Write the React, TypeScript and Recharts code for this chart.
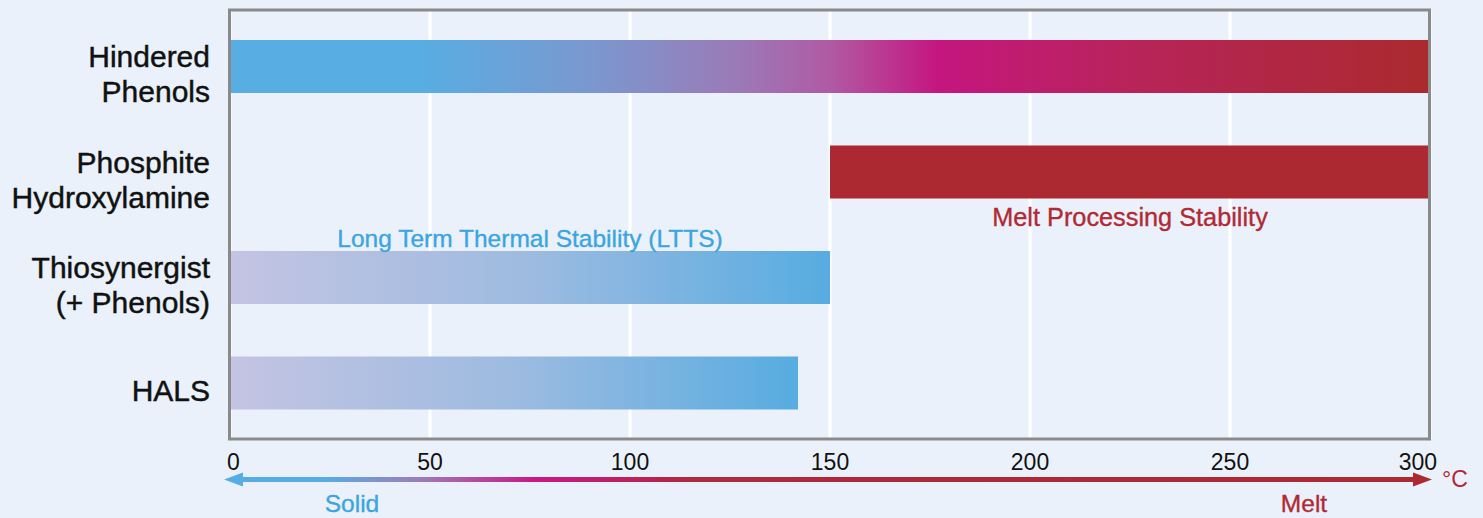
import { BarChart, Bar, XAxis, YAxis, CartesianGrid, Cell, LabelList } from 'recharts'

// stabiliser classes and their effective temperature ranges (°C)
const categories = ['Hindered\nPhenols', 'Phosphite\nHydroxylamine', 'Thiosynergist\n(+ Phenols)', 'HALS']
const rangeStart = [0, 150, 0, 0]
const rangeEnd = [300, 300, 150, 142]
const notes = ['', 'Melt Processing Stability', 'Long Term Thermal Stability (LTTS)', '']
const xTicks = [0, 50, 100, 150, 200, 250, 300]

const rows = categories.map((name, i) => ({
  name,
  range: [rangeStart[i], rangeEnd[i]],
  note: notes[i],
}))

const W = 1483
const H = 518
const PLOT_LEFT = 230
const PLOT_RIGHT = 1430
const PLOT_TOP = 10
const PLOT_BOTTOM = 439
const FONT = "'Liberation Sans', Arial, Helvetica, sans-serif"
const BLUE = '#57ace1'
const RED = '#ad2931'
const TEXT_BLUE = '#3aa5df'
const TEXT_RED = '#b02a35'

const BAR_FILL = ['url(#gradPhenol)', RED, 'url(#gradLtts)', 'url(#gradLtts)']

function CategoryTick(props: any) {
  const { y, payload } = props
  const lines = String(payload.value).split('\n')
  return (
    <text x={PLOT_LEFT - 20} y={y} textAnchor="end" fontFamily={FONT} fontSize={30} fill="#111" stroke="#111" strokeWidth={0.45}>
      {lines.map((l, i) => (
        <tspan key={i} x={PLOT_LEFT - 20} y={y + 18 + (i - (lines.length - 1) / 2) * 35}>{l}</tspan>
      ))}
    </text>
  )
}

function TempTick(props: any) {
  const { x, payload } = props
  const v = payload.value
  let anchor: 'start' | 'middle' | 'end' = 'middle'
  let tx = x
  if (v === xTicks[0]) { anchor = 'start'; tx = x - 3 }
  if (v === xTicks[xTicks.length - 1]) { anchor = 'end'; tx = x + 7 }
  return (
    <text x={tx} y={PLOT_BOTTOM + 31} textAnchor={anchor} fontFamily={FONT} fontSize={23} fill="#111">
      {v}
    </text>
  )
}

function NoteLabel(props: any) {
  const { x, y, width, height, value, index } = props
  if (!value) return null
  const above = rangeStart[index] === 0
  const c = above ? TEXT_BLUE : TEXT_RED
  return (
    <text
      x={x + width / 2}
      y={above ? y - 4 : y + height + 27}
      textAnchor="middle"
      fontFamily={FONT}
      fontSize={above ? 24.5 : 25.3}
      fill={c}
      stroke={c}
      strokeWidth={0.35}
    >
      {value}
    </text>
  )
}

export default function App() {
  const arrowY = 479.5
  return (
    <div style={{ position: 'absolute', left: 0, top: 0, width: W, height: H, background: '#eaf1fa', overflow: 'hidden' }}>
      <BarChart
        width={W}
        height={H}
        data={rows}
        layout="vertical"
        margin={{ top: PLOT_TOP, right: W - PLOT_RIGHT, left: 0, bottom: H - PLOT_BOTTOM - 40 }}
      >
        <defs>
          <linearGradient id="gradPhenol" x1="0" y1="0" x2="1" y2="0">
            <stop offset="0%" stopColor="#58ade2" />
            <stop offset="16%" stopColor="#58ade2" />
            <stop offset="30%" stopColor="#7a98cf" />
            <stop offset="42%" stopColor="#9a7bb8" />
            <stop offset="50%" stopColor="#b05aa3" />
            <stop offset="59%" stopColor="#c5167f" />
            <stop offset="75%" stopColor="#b8245a" />
            <stop offset="100%" stopColor="#aa2a2d" />
          </linearGradient>
          <linearGradient id="gradLtts" x1="0" y1="0" x2="1" y2="0">
            <stop offset="0%" stopColor="#c4c4e3" />
            <stop offset="50%" stopColor="#9dbbe0" />
            <stop offset="100%" stopColor="#57ace1" />
          </linearGradient>
        </defs>
        <CartesianGrid horizontal={false} stroke="#ffffff" strokeWidth={3} />
        <XAxis
          type="number"
          domain={[0, 300]}
          ticks={xTicks}
          height={40}
          axisLine={false}
          tickLine={false}
          tick={<TempTick />}
        />
        <YAxis
          type="category"
          dataKey="name"
          width={PLOT_LEFT}
          padding={{ top: 4, bottom: 3 }}
          axisLine={false}
          tickLine={false}
          tick={<CategoryTick />}
        />
        <Bar dataKey="range" barSize={53} isAnimationActive={false}>
          {rows.map((r, i) => <Cell key={r.name} fill={BAR_FILL[i]} />)}
          <LabelList dataKey="note" content={<NoteLabel />} />
        </Bar>
      </BarChart>

      <svg width={W} height={H} style={{ position: 'absolute', left: 0, top: 0, pointerEvents: 'none' }}>
        <defs>
          <linearGradient id="gradArrow" gradientUnits="userSpaceOnUse" x1={224} y1={0} x2={1432} y2={0}>
            <stop offset="0%" stopColor={BLUE} />
            <stop offset="8.4%" stopColor={BLUE} />
            <stop offset="15.8%" stopColor="#9b80bc" />
            <stop offset="25.7%" stopColor="#c8188a" />
            <stop offset="39%" stopColor="#b0283c" />
            <stop offset="100%" stopColor={RED} />
          </linearGradient>
        </defs>
        <rect
          x={PLOT_LEFT - 0.5}
          y={PLOT_TOP}
          width={PLOT_RIGHT - PLOT_LEFT}
          height={PLOT_BOTTOM - PLOT_TOP}
          fill="none"
          stroke="#8a8a8a"
          strokeWidth={3}
        />
        <rect x={240} y={arrowY - 2.5} width={1176} height={5} fill="url(#gradArrow)" />
        <polygon points={`224,${arrowY} 243,${arrowY - 7} 243,${arrowY + 7}`} fill={BLUE} />
        <polygon points={`1432,${arrowY} 1413,${arrowY - 7} 1413,${arrowY + 7}`} fill={RED} />
        <text x={1442} y={487} fontFamily={FONT} fontSize={23} fill={TEXT_RED}>°C</text>
        <text x={352} y={512} textAnchor="middle" fontFamily={FONT} fontSize={24.5} fill={TEXT_BLUE} stroke={TEXT_BLUE} strokeWidth={0.35}>Solid</text>
        <text x={1304} y={512} textAnchor="middle" fontFamily={FONT} fontSize={24.5} fill={TEXT_RED} stroke={TEXT_RED} strokeWidth={0.35}>Melt</text>
      </svg>
    </div>
  )
}
